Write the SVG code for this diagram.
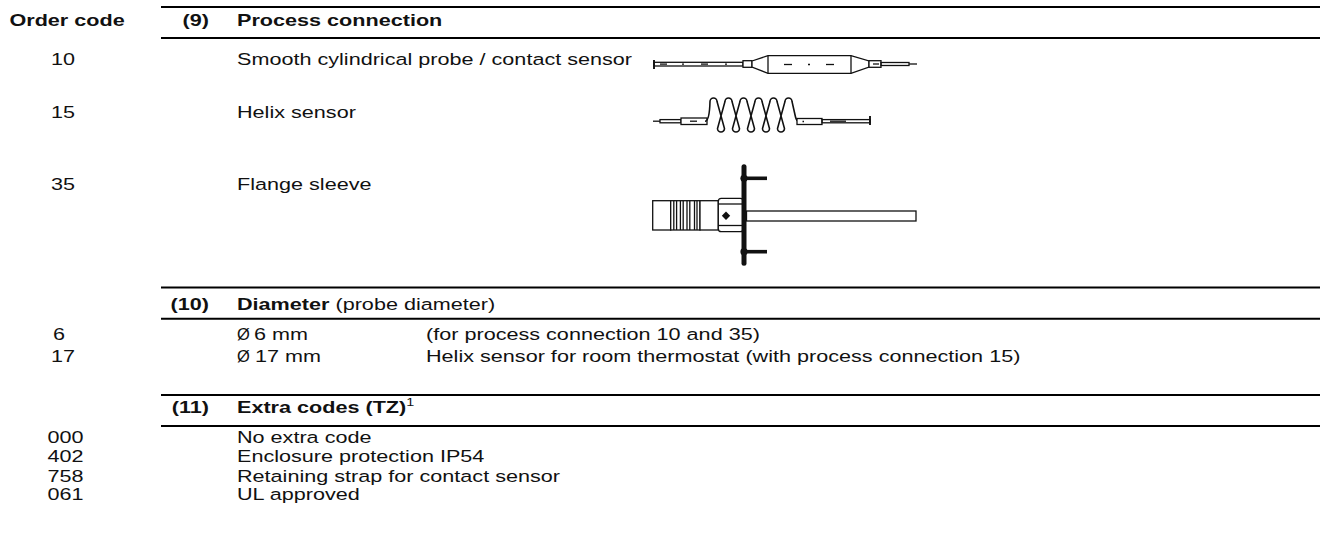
<svg xmlns="http://www.w3.org/2000/svg" width="1320" height="555" viewBox="0 0 1320 555">
<style>
  text { font-family: "Liberation Sans", Arial, sans-serif; font-size: 16.5px; fill: #111; }
  .b { font-weight: bold; }
  .c { text-anchor: middle; }
  .e { text-anchor: end; }
  .rule { stroke: #000; stroke-width: 2; }
  .ln { fill: none; stroke: #111; stroke-width: 1.3; }
  .lnw { fill: #fff; stroke: #111; stroke-width: 1.3; }
  .thk { fill: none; stroke: #111; stroke-width: 1.9; }
</style>
<rect width="1320" height="555" fill="#fff"/>

<g id="rules">
  <line class="rule" x1="161" y1="7" x2="1320" y2="7"/>
  <line class="rule" x1="161" y1="38" x2="1320" y2="38"/>
  <line class="rule" x1="161" y1="287.5" x2="1320" y2="287.5"/>
  <line class="rule" x1="161" y1="318.7" x2="1320" y2="318.7"/>
  <line class="rule" x1="161" y1="395" x2="1320" y2="395"/>
  <line class="rule" x1="161" y1="426" x2="1320" y2="426"/>
</g>

<g id="texts" transform="scale(1.31,1)">
  <text class="b" x="7.2" y="26.5">Order code</text>
  <text class="b e" x="159.5" y="26.5">(9)</text>
  <text class="b" x="180.9" y="26.5">Process connection</text>

  <text class="c" x="48.1" y="65.5">10</text>
  <text x="180.9" y="65.5">Smooth cylindrical probe / contact sensor</text>
  <text class="c" x="48.1" y="118.5">15</text>
  <text x="180.9" y="118.5">Helix sensor</text>
  <text class="c" x="48.1" y="190.5">35</text>
  <text x="180.9" y="190.5">Flange sleeve</text>

  <text class="b e" x="159.5" y="310.5">(10)</text>
  <text x="180.9" y="310.5"><tspan class="b">Diameter</tspan> (probe diameter)</text>
  <text class="c" x="45" y="340">6</text>
  <text x="193.9" y="340">6 mm</text>
  <text x="325.2" y="340">(for process connection 10 and 35)</text>
  <text class="c" x="48.1" y="361.7">17</text>
  <text x="194.7" y="361.7">17 mm</text>
  <text x="325.2" y="361.7">Helix sensor for room thermostat (with process connection 15)</text>

  <text class="b e" x="159.5" y="412.7">(11)</text>
  <text x="180.9" y="412.7"><tspan class="b">Extra codes (TZ)</tspan><tspan font-size="11" dy="-7">1</tspan></text>
  <text class="c" x="50" y="443">000</text>
  <text x="180.9" y="443">No extra code</text>
  <text class="c" x="50" y="461.7">402</text>
  <text x="180.9" y="461.7">Enclosure protection IP54</text>
  <text class="c" x="50" y="481.7">758</text>
  <text x="180.9" y="481.7">Retaining strap for contact sensor</text>
  <text class="c" x="50" y="500">061</text>
  <text x="180.9" y="500">UL approved</text>
</g>
<g id="diameter-signs">
  <text x="237" y="340">Ø</text>
  <text x="237" y="361.7">Ø</text>
</g>

<g id="probe-10">
  <line class="thk" x1="654" y1="60" x2="654" y2="69"/>
  <rect class="ln" x="654" y="62.3" width="89" height="3.7"/>
  <g class="ln" stroke-width="1.6">
    <line x1="660" y1="64.1" x2="667" y2="64.1"/>
    <line x1="682" y1="64.1" x2="684" y2="64.1"/>
    <line x1="701" y1="64.1" x2="708" y2="64.1"/>
    <line x1="725" y1="64.1" x2="727" y2="64.1"/>
  </g>
  <rect class="lnw" x="743" y="60.7" width="9" height="6.6"/>
  <path class="lnw" d="M752,61 L768,55.7 L851,55.7 L869,61 L869,67 L851,73.3 L768,73.3 L752,67 Z"/>
  <line class="ln" x1="768" y1="55.7" x2="768" y2="73.3"/>
  <line class="ln" x1="851" y1="55.7" x2="851" y2="73.3"/>
  <g class="ln" stroke-width="1.6">
    <line x1="784" y1="64.5" x2="792" y2="64.5"/>
    <line x1="808" y1="64.5" x2="810" y2="64.5"/>
    <line x1="826" y1="64.5" x2="834" y2="64.5"/>
  </g>
  <rect class="lnw" x="869" y="60.7" width="12" height="6.6"/>
  <line class="ln" x1="873" y1="64" x2="879" y2="64"/>
  <rect class="ln" x="881" y="62.5" width="28" height="3"/>
  <line class="ln" x1="909" y1="64" x2="917" y2="64"/>
</g>

<g id="helix-15">
  <line class="ln" x1="653" y1="121.2" x2="660" y2="121.2"/>
  <rect class="ln" x="660" y="119.6" width="21" height="3.2" fill="#555"/>
  <rect class="lnw" x="681" y="118" width="26" height="6.5"/>
  <line class="ln" x1="690" y1="121.2" x2="697" y2="121.2" stroke-width="1.6"/>
  <path fill="none" stroke="#111" stroke-width="1.6" d="M705,121.3 Q709.5,121 710,101.5
    A3.5,3.5 0 0 1 717,101.5 L724.5,128.5 A3.5,3.5 0 0 1 717.5,128.5 L725,101.5
    A3.5,3.5 0 0 1 732,101.5 L739.5,128.5 A3.5,3.5 0 0 1 732.5,128.5 L740,101.5
    A3.5,3.5 0 0 1 747,101.5 L754.5,128.5 A3.5,3.5 0 0 1 747.5,128.5 L755,101.5
    A3.5,3.5 0 0 1 762,101.5 L769.5,128.5 A3.5,3.5 0 0 1 762.5,128.5 L770,101.5
    A3.5,3.5 0 0 1 777,101.5 L784.5,128.5 A3.5,3.5 0 0 1 777.5,128.5 L785,101.5
    A3.5,3.5 0 0 1 792,101.5 L795.5,117 Q796.5,121.3 799,121.3"/>
  <rect class="lnw" x="797" y="118.5" width="25" height="6"/>
  <line class="ln" x1="802.5" y1="121.5" x2="804" y2="121.5" stroke-width="1.6"/>
  <rect class="ln" x="822" y="119.6" width="48" height="3.2"/>
  <line class="ln" x1="830" y1="121.2" x2="846" y2="121.2"/>
  <line class="thk" x1="870" y1="116" x2="870" y2="125"/>
</g>

<g id="flange-35">
  <rect class="lnw" x="652.7" y="200.7" width="18" height="29.3" stroke-width="1.8"/>
  <rect class="lnw" x="670.7" y="200.7" width="29.3" height="29.3" stroke-width="1.8"/>
  <g class="ln" stroke-width="2.1">
    <line x1="673.8" y1="200.7" x2="673.8" y2="230"/>
    <line x1="676.6" y1="200.7" x2="676.6" y2="230"/>
    <line x1="680.4" y1="200.7" x2="680.4" y2="230"/>
    <line x1="683.2" y1="200.7" x2="683.2" y2="230"/>
    <line x1="687" y1="200.7" x2="687" y2="230"/>
    <line x1="689.8" y1="200.7" x2="689.8" y2="230"/>
    <line x1="694.5" y1="200.7" x2="694.5" y2="230"/>
    <line x1="697" y1="200.7" x2="697" y2="230"/>
  </g>
  <rect class="lnw" x="700" y="200.7" width="18.3" height="29.3" stroke-width="1.8"/>
  <rect class="lnw" x="718.3" y="198.3" width="25" height="33.4" rx="3" stroke-width="1.8"/>
  <line class="ln" x1="718.3" y1="204" x2="743" y2="204" stroke-width="1.6"/>
  <line class="ln" x1="718.3" y1="225.5" x2="743" y2="225.5" stroke-width="1.6"/>
  <polygon points="726,211.5 730.2,215.7 726,220 721.8,215.7" fill="#111"/>
  <rect class="lnw" x="746.5" y="211" width="169.5" height="10" stroke-width="1.9"/>
  <line x1="744" y1="166.7" x2="744" y2="263.3" stroke="#111" stroke-width="5" stroke-linecap="round"/>
  <line x1="744" y1="178.3" x2="767" y2="178.3" stroke="#111" stroke-width="3.6"/>
  <circle cx="744" cy="178.3" r="3.6" fill="#111"/>
  <line x1="744" y1="251.7" x2="767" y2="251.7" stroke="#111" stroke-width="3.6"/>
  <circle cx="744" cy="251.7" r="3.6" fill="#111"/>
</g>
</svg>
